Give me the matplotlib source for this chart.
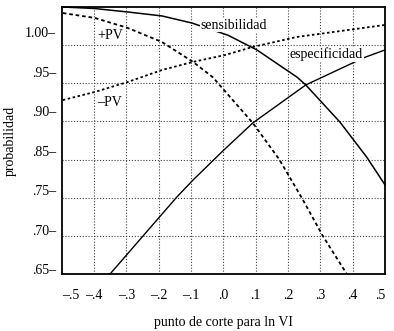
import numpy as np
import matplotlib
matplotlib.use("Agg")
import matplotlib.pyplot as plt

plt.rcParams["font.family"] = ["Liberation Serif", "DejaVu Serif"]
plt.rcParams["font.size"] = 10

# curves (x = punto de corte, y = probabilidad)
sens_x = [-0.5, -0.40, -0.296, -0.19, -0.098, 0.014, 0.104, 0.228, 0.255, 0.361, 0.444, 0.5]
sens_y = [1.000, 0.998, 0.9934, 0.9882, 0.979, 0.963, 0.9436, 0.908, 0.8978, 0.849, 0.803, 0.767]

espec_x = [-0.351, -0.249, -0.144, -0.094, -0.002, 0.091, 0.255, 0.392, 0.438, 0.5]
espec_y = [0.650, 0.6998, 0.751, 0.7732, 0.8112, 0.848, 0.8978, 0.925, 0.934, 0.9436]

ppv_x = [-0.497, -0.398, -0.296, -0.19, -0.094, -0.033, 0.091, 0.172, 0.243, 0.308, 0.382]
ppv_y = [0.992, 0.9856, 0.9725, 0.954, 0.928, 0.908, 0.848, 0.8008, 0.7496, 0.6998, 0.650]

npv_x = [-0.497, -0.398, -0.296, -0.19, -0.094, 0.005, 0.091, 0.228, 0.5]
npv_y = [0.878, 0.8886, 0.9017, 0.9174, 0.928, 0.937, 0.9476, 0.9607, 0.9764]

ytick_labels = ["1.00–", ".95–", ".90–", ".85–", ".75–", ".70–", ".65–"]
xtick_vals = [-0.5, -0.4, -0.3, -0.2, -0.1, 0.0, 0.1, 0.2, 0.3, 0.4, 0.5]
xtick_labels = ["–.5", "–.4", "–.3", "–.2", "–.1", ".0", ".1", ".2", ".3", ".4", ".5"]

fig = plt.figure(figsize=(3.94, 3.31), dpi=100)
ax = fig.add_axes([0.157, 0.172, 0.82, 0.807])
ax.set_xlim(-0.5, 0.5)
ax.set_ylim(0.65, 1.0)

# dotted grid
for gx in np.arange(-0.4, 0.41, 0.1):
    ax.axvline(gx, color="0.25", lw=0.8, ls=(0, (1, 1.6)), zorder=1)
for gy in np.arange(0.70, 0.96, 0.05):
    ax.axhline(gy, color="0.25", lw=0.8, ls=(0, (1, 1.6)), zorder=1)

ax.plot(sens_x, sens_y, color="black", lw=1.1, zorder=3, clip_on=False)
ax.plot(espec_x, espec_y, color="black", lw=1.0, zorder=3)
ax.plot(ppv_x, ppv_y, color="black", lw=1.3, ls=(0, (2, 1.6)), zorder=3)
ax.plot(npv_x, npv_y, color="black", lw=1.3, ls=(0, (1.4, 1.4)), zorder=3)

box = dict(facecolor="white", edgecolor="none", pad=0.5)
ax.text(-0.070, 0.976, "sensibilidad", ha="left", va="center", fontsize=10, bbox=box, zorder=4)
ax.text(0.205, 0.938, "especificidad", ha="left", va="center", fontsize=10, bbox=box, zorder=4)
ax.text(-0.39, 0.963, "+PV", ha="left", va="center", fontsize=10, zorder=4)
ax.text(-0.39, 0.875, "–PV", ha="left", va="center", fontsize=10, zorder=4)

# y tick labels (spaced as printed)
ytick_pos = 0.9672 - 0.0518 * np.arange(len(ytick_labels))
ax.set_yticks(ytick_pos, ytick_labels)
ax.tick_params(axis="y", length=0, pad=4, labelsize=10)
ax.set_xticks(xtick_vals, xtick_labels)
ax.tick_params(axis="x", length=0, pad=11, labelsize=10)
xl = ax.get_xticklabels()
xl[0].set_horizontalalignment("left")
xl[-1].set_horizontalalignment("right")

for s in ax.spines.values():
    s.set_linewidth(1.3)

ax.set_xlabel("punto de corte para ln VI", fontsize=10, labelpad=10)
ax.set_ylabel("probabilidad", fontsize=10, labelpad=6)

fig.savefig("out.png", dpi=100)
